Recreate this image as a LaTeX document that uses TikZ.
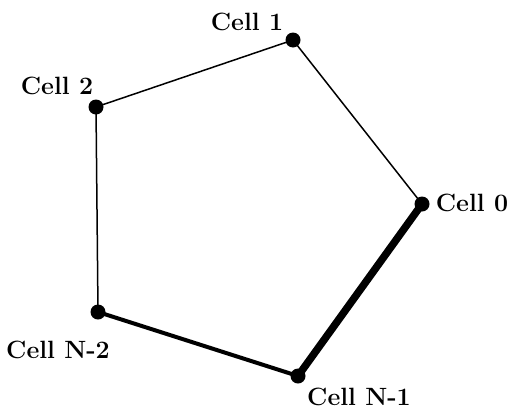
\documentclass[tikz,border=0pt]{standalone}
\usepackage{fontspec}
\usepackage{tikz}
\usetikzlibrary{positioning}

\begin{document}
\begin{tikzpicture}[
    x=1pt, y=-1pt,
    cell/.style={circle, fill=black, inner sep=0pt, minimum size=15pt},
    celllabel/.style={font=\fontsize{25}{28}\selectfont\bfseries, inner sep=0pt},
    link/.style={line width=1.5pt},
    heavylink/.style={line width=4pt},
    heaviestlink/.style={line width=7.5pt}
]
\useasboundingbox (0,0) rectangle (511,410);
\node[cell] (c1) at (293,40) {};
\node[cell] (c2) at (96,107) {};
\node[cell] (c0) at (422,204) {};
\node[cell] (cn2) at (98,312) {};
\node[cell] (cn1) at (298,376) {};
\node[celllabel] (l1) at (247,22) {Cell 1};
\node[celllabel] (l2) at (57,86) {Cell 2};
\node[celllabel] (l0) at (472,203) {Cell 0};
\node[celllabel] (ln2) at (58,350) {Cell N-2};
\node[celllabel] (ln1) at (359,397) {Cell N-1};
\draw[link] (c1.center) -- (c2.center);
\draw[link] (c2.center) -- (cn2.center);
\draw[link] (c1.center) -- (c0.center);
\draw[heavylink] (cn2.center) -- (cn1.center);
\draw[heaviestlink] (c0.center) -- (cn1.center);
\end{tikzpicture}
\end{document}
